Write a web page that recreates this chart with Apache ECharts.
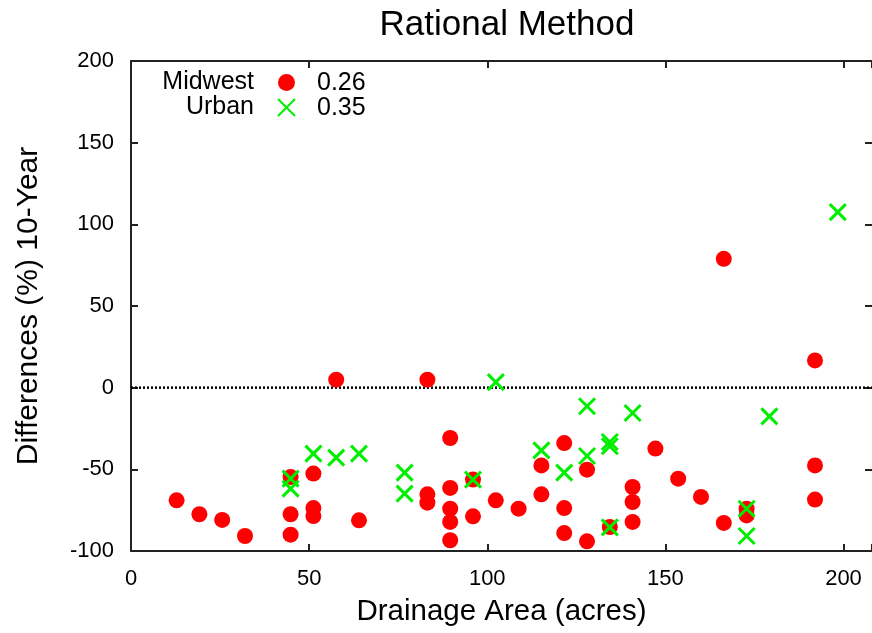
<!DOCTYPE html>
<html>
<head>
<meta charset="utf-8">
<script src="https://cdn.jsdelivr.net/npm/echarts@6/dist/echarts.min.js"></script>
<style>
html,body{margin:0;padding:0;background:#fff;}
#chart{width:872px;height:633px;}
</style>
</head>
<body>
<div id="chart"></div>
<script>
const titleText = 'Rational Method';
const xTitle = 'Drainage Area (acres)';
const yTitle = 'Differences (%) 10-Year';
const seriesNames = ['Midwest', 'Urban'];
const seriesValues = ['0.26', '0.35'];
const xTicks = [0, 50, 100, 150, 200];
const yTicks = [-100, -50, 0, 50, 100, 150, 200];

const midwestX = [12.8, 19.2, 25.6, 32, 44.8, 44.8, 44.8, 51.2, 51.2, 51.2, 57.6, 64, 83.2, 83.2, 83.2, 89.6, 89.6, 89.6, 89.6, 89.6, 96, 96, 102.4, 108.8, 115.2, 115.2, 121.6, 121.6, 121.6, 128, 128, 134.4, 140.8, 140.8, 140.8, 147.2, 153.6, 160, 166.4, 166.4, 172.8, 172.8, 192, 192, 192];
const midwestY = [-69, -77.5, -81, -90.8, -54.7, -77.5, -90, -52.6, -73.7, -78.6, 4.9, -81.2, 4.9, -65.3, -70.4, -30.8, -61.4, -74.1, -82.2, -93.4, -56.3, -78.8, -69, -74.1, -47.6, -65.3, -33.9, -73.7, -89, -50.2, -94.1, -85.3, -60.8, -70, -82.2, -37.3, -55.7, -66.9, 78.9, -82.8, -74.1, -78.2, 16.7, -47.6, -68.5];

const urbanX = [44.8, 44.8, 51.2, 57.6, 64, 76.8, 76.8, 96, 102.4, 115.2, 121.6, 128, 128, 134.4, 134.4, 134.4, 140.8, 172.8, 172.8, 179.2, 198.4];
const urbanY = [-55.7, -61.8, -40.4, -42.8, -40.4, -52, -64.9, -56.3, 3.4, -38.4, -52, -11.4, -41.8, -33.3, -35.9, -85.5, -15.5, -74.1, -90.8, -17.6, 107.5];

const zeroLineX = [0, 208];
const zeroLineY = [0, 0];

const FONT = 'Liberation Sans';
const xMin = xTicks[0], xMax = 208, yMin = yTicks[0], yMax = yTicks[yTicks.length - 1];

const chart = echarts.init(document.getElementById('chart'), null, {renderer: 'canvas'});
function mkLine(show) { return {show: show, onZero: false, lineStyle: {color: '#222', width: 2}}; }
function mkTick() { return {show: true, inside: true, length: 7, lineStyle: {color: '#222', width: 2}}; }

const option = {
  animation: false,
  backgroundColor: '#fff',
  title: {
    text: titleText,
    left: 502,
    top: 3,
    textAlign: 'center',
    textStyle: {fontFamily: FONT, fontSize: 35, fontWeight: 'normal', color: '#000'}
  },
  grid: {left: 131, top: 61, right: 0, bottom: 82, containLabel: false},
  legend: {
    orient: 'vertical',
    left: 149,
    top: 65,
    align: 'right',
    itemWidth: 17,
    itemHeight: 17,
    itemGap: 0,
    data: seriesNames,
    textStyle: {fontFamily: FONT, fontSize: 25, lineHeight: 25, color: '#000', width: 100, align: 'right', padding: [0, 19, 0, 0]}
  },
  graphic: seriesValues.map((v, i) => ({
    type: 'text', left: 317, top: 71 + i * 25,
    style: {text: v, font: '25px "Liberation Sans"', fill: '#000'}
  })),
  xAxis: [{
    type: 'value', min: xMin, max: xMax, interval: 50,
    name: xTitle, nameLocation: 'middle', nameGap: 46,
    nameTextStyle: {fontFamily: FONT, fontSize: 29.5, color: '#000'},
    axisLine: mkLine(true), axisTick: mkTick(),
    axisLabel: {fontFamily: FONT, fontSize: 22, color: '#000', margin: 17,
      customValues: xTicks, formatter: v => String(v)},
    splitLine: {show: false}
  }, {
    type: 'value', position: 'top', min: xMin, max: xMax, interval: 50,
    axisLine: mkLine(true), axisTick: mkTick(), axisLabel: {show: false}, splitLine: {show: false}
  }],
  yAxis: [{
    type: 'value', min: yMin, max: yMax, interval: 50,
    name: yTitle, nameLocation: 'middle', nameGap: 87, nameRotate: 90,
    nameTextStyle: {fontFamily: FONT, fontSize: 30, color: '#000'},
    axisLine: mkLine(true), axisTick: mkTick(),
    axisLabel: {fontFamily: FONT, fontSize: 22, color: '#000', margin: 17, formatter: v => String(v)},
    splitLine: {show: false}
  }, {
    type: 'value', position: 'right', min: yMin, max: yMax, interval: 50,
    axisLine: mkLine(false), axisTick: mkTick(), axisLabel: {show: false}, splitLine: {show: false}
  }],
  series: [{
    name: 'zero', type: 'line', silent: true, symbol: 'none',
    data: zeroLineX.map((x, i) => [x, zeroLineY[i]]),
    lineStyle: {color: '#000', width: 2.5, type: [2, 2]},
    z: 1
  }, {
    name: seriesNames[0], type: 'scatter', symbol: 'circle', symbolSize: 16,
    data: midwestX.map((x, i) => [x, midwestY[i]]),
    itemStyle: {color: '#ff0000', opacity: 1},
    z: 2
  }, {
    name: seriesNames[1], type: 'scatter',
    symbol: 'path://M0,0L10,10M10,0L0,10', symbolSize: 16,
    data: urbanX.map((x, i) => [x, urbanY[i]]),
    itemStyle: {color: '#00ee00', borderColor: '#00ee00', borderWidth: 3, opacity: 1},
    z: 3
  }]
};
chart.setOption(option);
</script>
</body>
</html>
